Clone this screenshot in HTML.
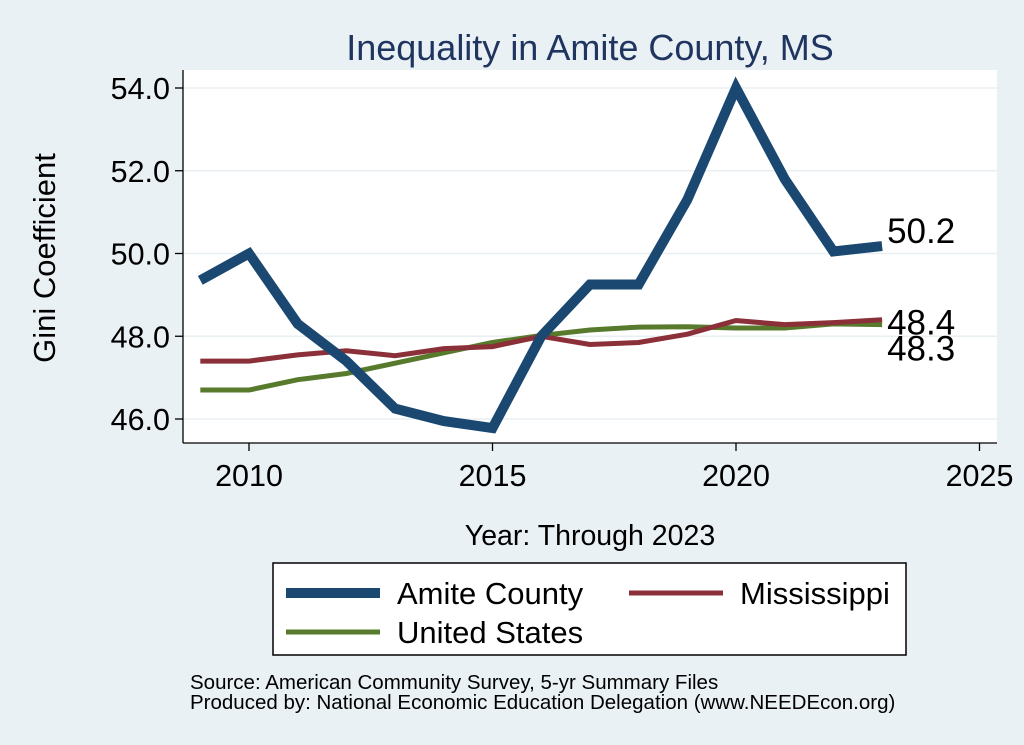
<!DOCTYPE html>
<html><head><meta charset="utf-8"><style>
body{margin:0;background:#eaf1f4;}
svg{display:block;font-family:"Liberation Sans",Arial,sans-serif;}
</style></head><body>
<svg id="chart" width="1024" height="745" viewBox="0 0 1024 745">
<rect x="0" y="0" width="1024" height="745" fill="#eaf1f4"/>
<rect x="183" y="70" width="814" height="373" fill="#ffffff"/>
<text x="590" y="60" text-anchor="middle" font-size="36" fill="#1f3560">Inequality in Amite County, MS</text>
<g id="grid"></g>
<g id="axes"></g>
<g id="series"></g>
<text x="590" y="545" text-anchor="middle" font-size="28.5" fill="#000">Year: Through 2023</text>
<text transform="translate(55,258) rotate(-90)" text-anchor="middle" font-size="31" fill="#000">Gini Coefficient</text>
<g>
<rect x="273" y="563" width="633" height="92" fill="#fff" stroke="#000" stroke-width="1.5"/>
<line x1="286" y1="593" x2="380" y2="593" stroke="#1a4870" stroke-width="10"/>
<text x="397" y="604" font-size="31">Amite County</text>
<line x1="629" y1="593" x2="723" y2="593" stroke="#8b3038" stroke-width="5"/>
<text x="740" y="604" font-size="31">Mississippi</text>
<line x1="286" y1="632" x2="380" y2="632" stroke="#577a2c" stroke-width="5"/>
<text x="397" y="643" font-size="31">United States</text>
</g>
<text x="190" y="689" font-size="20.5">Source: American Community Survey, 5-yr Summary Files</text>
<text x="190" y="709" font-size="20.5">Produced by: National Economic Education Delegation (www.NEEDEcon.org)</text>
</svg>
<script>
const years=[2009,2010,2011,2012,2013,2014,2015,2016,2017,2018,2019,2020,2021,2022,2023];
const amite=[49.35,50.0,48.3,47.4,46.25,45.95,45.78,48.0,49.25,49.25,51.3,54.0,51.8,50.05,50.18];
const mississippi=[47.4,47.4,47.55,47.65,47.53,47.7,47.75,48.0,47.8,47.85,48.05,48.38,48.28,48.33,48.4];
const us=[46.7,46.7,46.95,47.1,47.35,47.6,47.85,48.02,48.15,48.22,48.23,48.2,48.2,48.3,48.28];
const yTicks=[46,48,50,52,54];
const xTicks=[2010,2015,2020,2025];
const X=v=>249+(v-2010)*48.7;
const Y=v=>419-(v-46)*41.375;
const NS='http://www.w3.org/2000/svg';
function mk(tag,attrs,parent){const e=document.createElementNS(NS,tag);for(const k in attrs)e.setAttribute(k,attrs[k]);parent.appendChild(e);return e;}
const grid=document.getElementById('grid'),axes=document.getElementById('axes'),series=document.getElementById('series');
yTicks.forEach(t=>{
 const g=mk('line',{x1:183,x2:997,y1:Y(t),y2:Y(t),stroke:'#e8eff2','stroke-width':1.5},grid);
 
 
 const tk=mk('line',{x1:175,x2:183,y1:Y(t),y2:Y(t),stroke:'#000','stroke-width':1.3},axes);
 
 
 const tx=mk('text',{x:170,y:Y(t)+11,'text-anchor':'end','font-size':30.5},axes);
 tx.textContent=t.toFixed(1);
 
 
});
xTicks.forEach(t=>{
 const tk=mk('line',{x1:X(t),x2:X(t),y1:443,y2:451,stroke:'#000','stroke-width':1.3},axes);
 
 
 const tx=mk('text',{x:X(t),y:486,'text-anchor':'middle','font-size':30.5},axes);
 tx.textContent=t;
 
 
});
const ya=mk('line',{x1:183,x2:183,y1:70,y2:443,stroke:'#000','stroke-width':1.3},axes);


const xa=mk('line',{x1:183,x2:997,y1:443,y2:443,stroke:'#000','stroke-width':1.3},axes);


function line(vals,color,w,name,dy){
 const p=mk('polyline',{points:vals.map((v,i)=>X(years[i])+','+Y(v)).join(' '),fill:'none',stroke:color,'stroke-width':w,'stroke-linejoin':'miter'},series);
 
 
 const last=vals[vals.length-1];
 const t=mk('text',{x:X(years[years.length-1])+5,y:Y(last)+dy,'font-size':35},series);
 t.textContent=last.toFixed(1);
 
 
}
line(us,'#577a2c',5,'us',36);
line(mississippi,'#8b3038',5,'mississippi',15);
line(amite,'#1a4870',10,'amite',-3);
</script>
</body></html>
